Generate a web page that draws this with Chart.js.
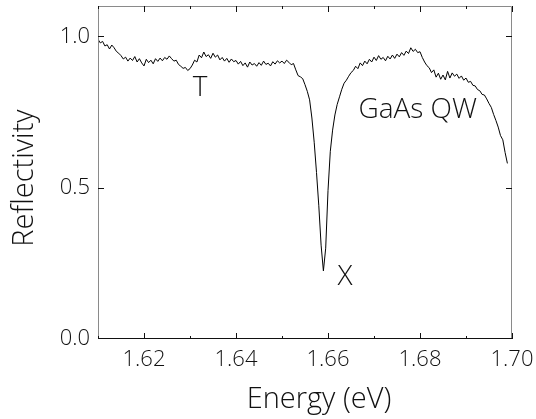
<!DOCTYPE html>
<html>
<head>
<meta charset="utf-8">
<script src="https://cdn.jsdelivr.net/npm/chart.js@4.4.1/dist/chart.umd.min.js"></script>
<style>
  html, body { margin:0; padding:0; background:#fff; }
  #wrap { width:536px; height:419px; }
</style>
</head>
<body>
<div id="wrap"><canvas id="refl"></canvas></div>
<script>
// photon energy (eV)
const energy = [
  1.6100,1.6105,1.6110,1.6115,1.6120,1.6125,1.6130,1.6135,1.6140,1.6145,
  1.6150,1.6155,1.6160,1.6165,1.6170,1.6175,1.6180,1.6185,1.6190,1.6195,
  1.6200,1.6205,1.6210,1.6215,1.6220,1.6225,1.6230,1.6235,1.6240,1.6245,
  1.6250,1.6255,1.6260,1.6265,1.6270,1.6275,1.6280,1.6285,1.6290,1.6295,
  1.6300,1.6305,1.6310,1.6315,1.6320,1.6325,1.6330,1.6335,1.6340,1.6345,
  1.6350,1.6355,1.6360,1.6365,1.6370,1.6375,1.6380,1.6385,1.6390,1.6395,
  1.6400,1.6405,1.6410,1.6415,1.6420,1.6425,1.6430,1.6435,1.6440,1.6445,
  1.6450,1.6455,1.6460,1.6465,1.6470,1.6475,1.6480,1.6485,1.6490,1.6495,
  1.6500,1.6505,1.6510,1.6515,1.6520,1.6525,1.6530,1.6535,1.6540,1.6545,
  1.6550,1.6555,1.6560,1.6565,1.6570,1.6575,1.6580,1.6585,1.6590,1.6595,
  1.6600,1.6605,1.6610,1.6615,1.6620,1.6625,1.6630,1.6635,1.6640,1.6645,
  1.6650,1.6655,1.6660,1.6665,1.6670,1.6675,1.6680,1.6685,1.6690,1.6695,
  1.6700,1.6705,1.6710,1.6715,1.6720,1.6725,1.6730,1.6735,1.6740,1.6745,
  1.6750,1.6755,1.6760,1.6765,1.6770,1.6775,1.6780,1.6785,1.6790,1.6795,
  1.6800,1.6805,1.6810,1.6815,1.6820,1.6825,1.6830,1.6835,1.6840,1.6845,
  1.6850,1.6855,1.6860,1.6865,1.6870,1.6875,1.6880,1.6885,1.6890,1.6895,
  1.6900,1.6905,1.6910,1.6915,1.6920,1.6925,1.6930,1.6935,1.6940,1.6945,
  1.6950,1.6955,1.6960,1.6965,1.6970,1.6975,1.6980,1.6985,1.6990
];

// reflectivity
const reflectivity = [
  0.990,0.978,0.983,0.968,0.972,0.958,0.971,0.962,0.950,0.944,
  0.936,0.925,0.931,0.918,0.928,0.920,0.933,0.915,0.926,0.912,
  0.902,0.924,0.913,0.921,0.909,0.926,0.917,0.928,0.919,0.930,
  0.924,0.935,0.926,0.918,0.921,0.907,0.901,0.894,0.897,0.887,
  0.893,0.905,0.921,0.915,0.938,0.929,0.948,0.933,0.939,0.927,
  0.944,0.931,0.938,0.922,0.930,0.918,0.927,0.914,0.925,0.916,
  0.920,0.908,0.917,0.903,0.912,0.898,0.915,0.905,0.910,0.901,
  0.913,0.904,0.918,0.907,0.911,0.902,0.916,0.908,0.919,0.912,
  0.918,0.910,0.921,0.914,0.906,0.910,0.889,0.870,0.866,0.860,
  0.840,0.818,0.790,0.730,0.650,0.550,0.440,0.310,0.225,0.300,
  0.490,0.620,0.690,0.740,0.775,0.800,0.825,0.845,0.855,0.868,
  0.880,0.887,0.901,0.893,0.912,0.903,0.918,0.909,0.924,0.915,
  0.931,0.920,0.936,0.924,0.930,0.919,0.934,0.925,0.938,0.927,
  0.941,0.932,0.946,0.937,0.951,0.943,0.962,0.950,0.957,0.946,
  0.949,0.930,0.915,0.903,0.896,0.880,0.889,0.865,0.878,0.858,
  0.872,0.856,0.884,0.862,0.879,0.868,0.875,0.861,0.869,0.855,
  0.862,0.848,0.851,0.838,0.836,0.824,0.820,0.808,0.806,0.793,
  0.778,0.765,0.742,0.722,0.700,0.672,0.658,0.616,0.580
];

const xTickLabels = ['1.62','1.64','1.66','1.68','1.70'];
const yTickLabels = ['0.0','0.5','1.0'];

// text labels placed in data units
const notes = [
  { text:'T',       x:1.6322, y:0.828 },
  { text:'X',       x:1.6637, y:0.205 },
  { text:'GaAs QW', x:1.6795, y:0.756 }
];

const FONT = "'Open Sans', 'Noto Sans', sans-serif";
const INK = '#111';

// frame, inward ticks, axis titles and annotations
const framePlugin = {
  id: 'frame',
  afterDatasetsDraw(chart) {
    const { ctx, chartArea: a, scales: { x, y } } = chart;
    ctx.save();
    ctx.lineWidth = 1;
    // box
    ctx.strokeStyle = '#8a8a8a';
    ctx.beginPath();
    ctx.moveTo(a.left + 0.5, a.bottom); ctx.lineTo(a.left + 0.5, a.top + 0.5);
    ctx.lineTo(a.right - 0.5, a.top + 0.5); ctx.lineTo(a.right - 0.5, a.bottom);
    ctx.stroke();
    ctx.strokeStyle = '#111';
    ctx.beginPath();
    ctx.moveTo(a.left, a.bottom - 0.5); ctx.lineTo(a.right, a.bottom - 0.5);
    ctx.stroke();
    // x ticks, bottom and top
    ctx.strokeStyle = '#111';
    ctx.beginPath();
    x.ticks.forEach(t => {
      const px = Math.round(x.getPixelForValue(t.value)) + 0.5;
      const major = xTickLabels.includes(t.value.toFixed(2));
      const len = major ? 6 : 3;
      ctx.moveTo(px, a.bottom); ctx.lineTo(px, a.bottom - len);
      ctx.moveTo(px, a.top); ctx.lineTo(px, a.top + len);
    });
    // y ticks, left and right
    y.ticks.forEach(t => {
      if (t.value <= 0 || !yTickLabels.includes(t.value.toFixed(1))) return;
      const py = Math.round(y.getPixelForValue(t.value)) + 0.5;
      ctx.moveTo(a.left, py); ctx.lineTo(a.left + 6, py);
      ctx.moveTo(a.right, py); ctx.lineTo(a.right - 6, py);
    });
    ctx.stroke();

    ctx.fillStyle = INK;
    // axis titles
    ctx.font = '300 29px ' + FONT;
    ctx.textAlign = 'center';
    ctx.textBaseline = 'alphabetic';
    ctx.fillText('Energy (eV)', a.left + 221, a.bottom + 69);
    ctx.save();
    ctx.translate(33, a.top + 172);
    ctx.rotate(-Math.PI / 2);
    ctx.fillText('Reflectivity', 0, 0);
    ctx.restore();

    // annotations
    ctx.font = '300 28px ' + FONT;
    ctx.textBaseline = 'middle';
    notes.forEach(n => {
      ctx.fillText(n.text, x.getPixelForValue(n.x), y.getPixelForValue(n.y));
    });
    ctx.restore();
  }
};

new Chart(document.getElementById('refl').getContext('2d'), {
  type: 'line',
  data: {
    datasets: [{
      data: energy.map((e, i) => ({ x: e, y: reflectivity[i] })),
      borderColor: '#000', borderWidth: 1, pointRadius: 0, tension: 0, fill: false
    }]
  },
  options: {
    responsive: true, maintainAspectRatio: false, animation: false,
    layout: { padding: { top: 6, right: 24, left: 0, bottom: 0 } },
    plugins: { legend: { display: false }, tooltip: { enabled: false } },
    scales: {
      x: {
        type: 'linear', min: 1.61, max: 1.70,
        grid: { display: false, drawTicks: false }, border: { display: false },
        afterFit: s => { s.height = 80; s.paddingLeft = 0; s.paddingRight = 0; },
        ticks: {
          stepSize: 0.01, padding: 8, color: INK, maxRotation: 0, autoSkip: false,
          font: { family: FONT, size: 22, weight: '300' },
          callback: v => xTickLabels.includes(v.toFixed(2)) ? v.toFixed(2) : ''
        }
      },
      y: {
        min: 0, max: 1.1,
        grid: { display: false, drawTicks: false }, border: { display: false },
        afterFit: s => { s.width = 98; s.paddingTop = 0; s.paddingBottom = 0; },
        ticks: {
          stepSize: 0.5, padding: 8, color: INK,
          font: { family: FONT, size: 22, weight: '300' },
          callback: v => yTickLabels.includes(v.toFixed(1)) ? v.toFixed(1) : ''
        }
      }
    }
  },
  plugins: [framePlugin]
});
</script>
</body>
</html>
